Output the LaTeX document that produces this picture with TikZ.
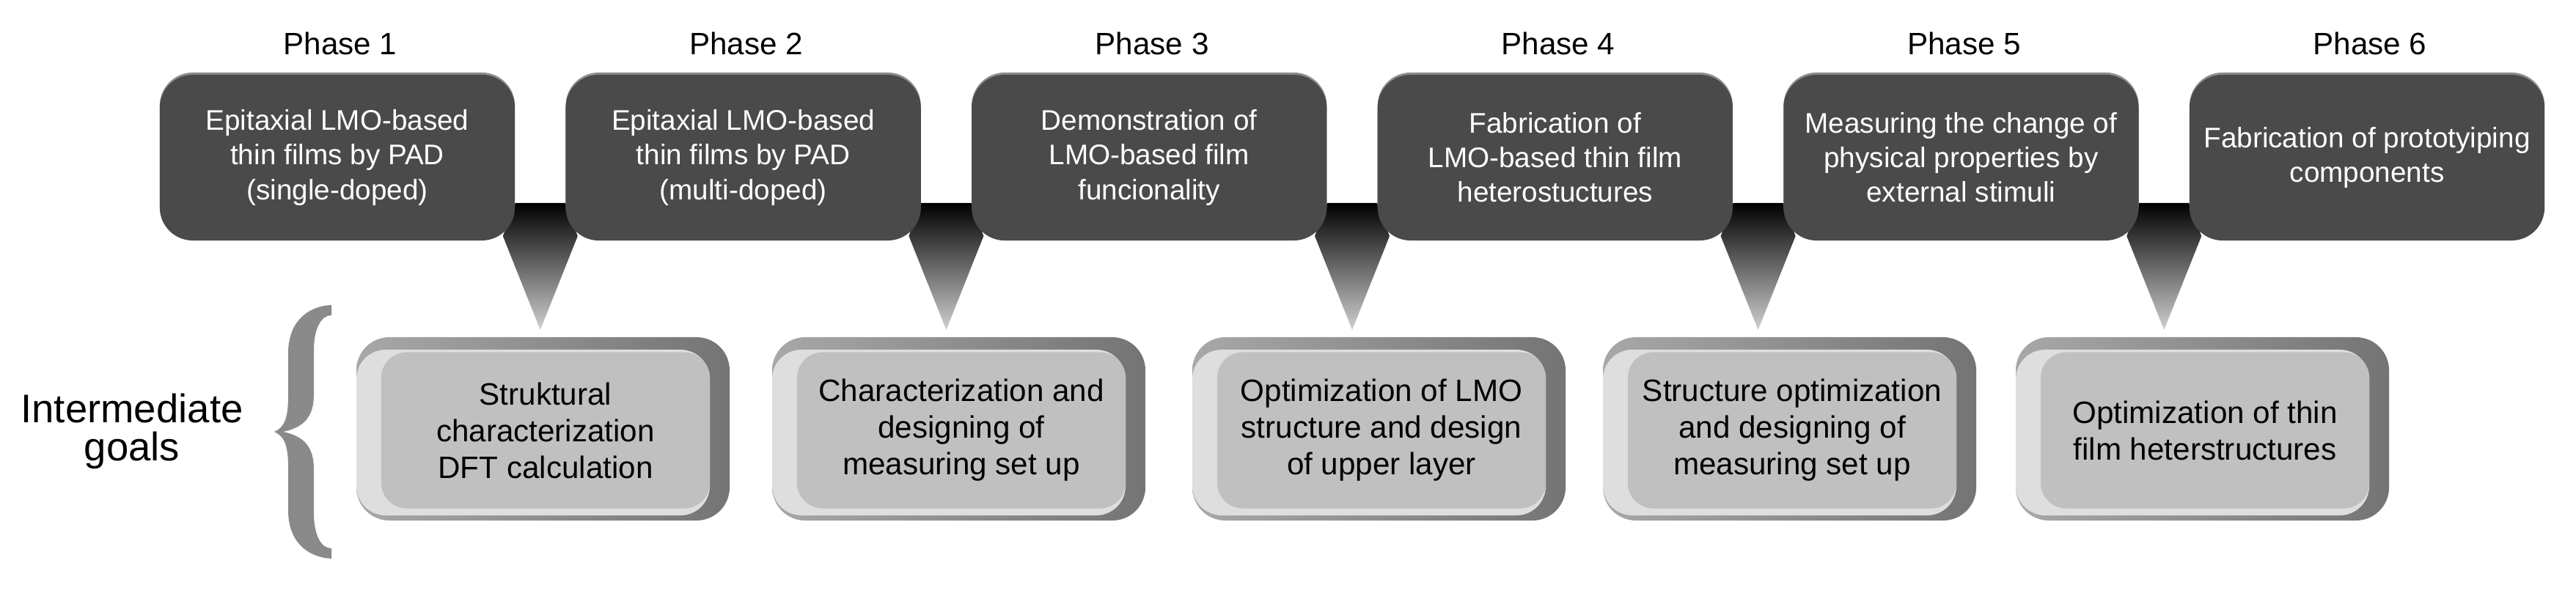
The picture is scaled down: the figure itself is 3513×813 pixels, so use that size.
\documentclass[tikz,border=0pt]{standalone}
\usepackage{fontspec}
\setmainfont{Liberation Sans}
\definecolor{boxdark}{RGB}{74,74,74}
\definecolor{boxedge}{RGB}{140,140,140}
\definecolor{facegray}{RGB}{192,192,192}
\definecolor{bevdark}{RGB}{116,116,116}
\definecolor{bevmid}{RGB}{168,168,168}
\definecolor{bevlight}{RGB}{222,222,222}
\definecolor{bracegray}{RGB}{138,138,138}
\definecolor{tipgray}{RGB}{208,208,208}
\begin{document}
\begin{tikzpicture}[x=0.01cm,y=-0.01cm,
  phaselabel/.style={font=\fontsize{12}{14}\selectfont, anchor=base, inner sep=0pt},
  topedge/.style={fill=boxedge, rounded corners=0.45cm, minimum width=4.84cm, minimum height=2.26cm, inner sep=0pt},
  topbox/.style={fill=boxdark, rounded corners=0.45cm, minimum width=4.84cm, minimum height=2.26cm, inner sep=0pt, text=white, align=center, font=\fontsize{11}{13.4}\selectfont},
  funnel/.style={top color=black, bottom color=tipgray},
  bevelouter/.style={left color=bevmid, right color=bevdark, rounded corners=0.45cm},
  bevellight/.style={fill=bevlight, rounded corners=0.4cm},
  goalface/.style={fill=facegray, rounded corners=0.35cm, minimum width=4.48cm, minimum height=2.13cm, inner sep=0pt, align=center, font=\fontsize{12}{14.2}\selectfont},
  bracefill/.style={fill=bracegray},
  sidelabel/.style={align=center, inner sep=0pt, font=\fontsize{15.5}{14.8}\selectfont}]
\useasboundingbox (0,0) rectangle (3513,813);
\fill[white] (0,0) rectangle (3513,813);

% funnels between the phase boxes
\foreach \i in {1,...,5}{
  \pgfmathsetmacro\c{218+553.6*(\i-1)+518.8}
  \path[funnel] (\c-34,277) -- (\c+34,277) -- (\c+51,322) -- (\c,450) -- (\c-51,322) -- cycle;
}

% phase boxes
\foreach \i/\t in {1/{Epitaxial LMO-based\\thin films by PAD\\(single-doped)},
                   2/{Epitaxial LMO-based\\thin films by PAD\\(multi-doped)},
                   3/{Demonstration of\\LMO-based film\\funcionality},
                   4/{Fabrication of\\LMO-based thin film\\heterostuctures},
                   5/{Measuring the change of\\physical properties by\\external stimuli},
                   6/{Fabrication of prototyiping\\components}}{
  \pgfmathsetmacro\cx{218+553.6*(\i-1)+242}
  \node[topedge] (e\i) at (\cx,212) {};
  \node[topbox] (p\i) at (\cx,215) {\t};
  \node[phaselabel] (ph\i) at (\cx+4,75) {Phase \i};
}

% intermediate goal boxes
\foreach \j/\B/\t in {1/486/{Struktural\\characterization\\DFT calculation},
                   2/1053/{Characterization and\\designing of\\measuring set up},
                   3/1626/{Optimization of LMO\\structure and design\\of upper layer},
                   4/2186/{Structure optimization\\and designing of\\measuring set up},
                   5/2749/{Optimization of thin\\film heterstructures}}{
  \path[bevelouter] (\B,460) rectangle (\B+509,710);
  \path[bevellight] (\B,477) rectangle (\B+482,703);
  \node[goalface] (g\j) at (\B+258,587) {\t};
}

% brace
\path[bracefill] (452,416) .. controls (418,418) and (393,440) .. (393,482)
  -- (393,540) .. controls (393,570) and (388,583) .. (374,589)
  .. controls (388,595) and (393,608) .. (393,638)
  -- (393,696) .. controls (393,738) and (418,760) .. (452,762)
  -- (452,748) .. controls (438,748) and (428,730) .. (428,700)
  -- (428,640) .. controls (428,610) and (415,595) .. (386,589)
  .. controls (415,583) and (428,568) .. (428,538)
  -- (428,478) .. controls (428,448) and (438,430) .. (452,430)
  -- cycle;

\node[sidelabel] (ig) at (180,588) {Intermediate\\goals};
\end{tikzpicture}
\end{document}
